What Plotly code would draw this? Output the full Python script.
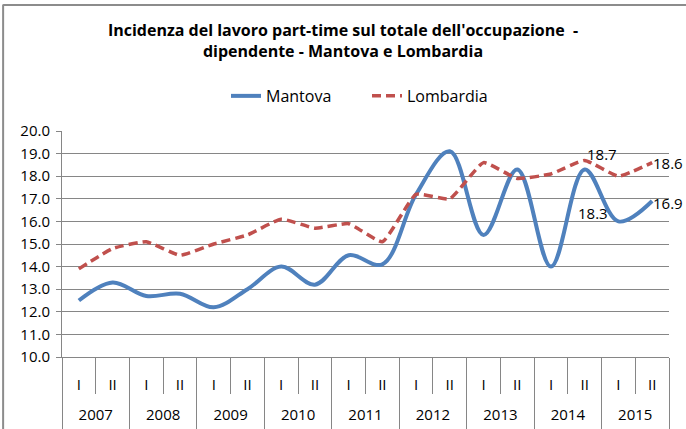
import plotly.graph_objects as go

years = ["2007", "2008", "2009", "2010", "2011", "2012", "2013", "2014", "2015"]
halves = ["I", "II"]
mantova = [12.5, 13.3, 12.7, 12.8, 12.2, 13.0, 14.0, 13.2, 14.5, 14.1,
           17.2, 19.1, 15.4, 18.3, 14.0, 18.3, 16.0, 16.9]
lombardia = [13.9, 14.8, 15.1, 14.5, 15.0, 15.4, 16.1, 15.7, 15.9, 15.1,
             17.2, 17.0, 18.6, 17.9, 18.1, 18.7, 18.0, 18.6]

n = len(mantova)
xi = list(range(n))
half_text = [h for _ in years for h in halves]
year_pos = [2 * k + 0.5 for k in range(len(years))]
half_bounds = [i - 0.5 for i in range(n + 1)]
year_bounds = [2 * k - 0.5 for k in range(len(years) + 1)]

FONT = "Open Sans, sans-serif"
BLUE = "#4F81BD"
RED = "#C0504D"
GRID = "#868686"

fig = go.Figure()
fig.add_trace(go.Scatter(x=xi, y=mantova, name="Mantova", mode="lines",
                         line=dict(color=BLUE, width=4, shape="spline", smoothing=1.0)))
fig.add_trace(go.Scatter(x=xi, y=lombardia, name="Lombardia", mode="lines",
                         line=dict(color=RED, width=3.5, dash="9px,5px", shape="spline", smoothing=0.4)))
# invisible carrier so the year axis is drawn
fig.add_trace(go.Scatter(x=xi, y=lombardia, xaxis="x2", mode="lines", opacity=0,
                         showlegend=False, hoverinfo="skip", line=dict(width=0)))

# data labels
fig.add_annotation(x=15, y=lombardia[15], text=f"{lombardia[15]:.1f}", showarrow=False,
                   xanchor="center", yanchor="bottom", xshift=17, yshift=-6)
fig.add_annotation(x=n - 1, y=lombardia[-1], text=f"{lombardia[-1]:.1f}", showarrow=False,
                   xanchor="left", yanchor="middle", xshift=-1)
fig.add_annotation(x=n - 1, y=mantova[-1], text=f"{mantova[-1]:.1f}", showarrow=False,
                   xanchor="left", yanchor="middle", xshift=-1, yshift=-2)
fig.add_annotation(x=15, y=mantova[15], text=f"{mantova[15]:.1f}", showarrow=False,
                   xanchor="center", yanchor="middle", xshift=8, yshift=-44)

# chart frame (left and top edges)
fig.add_shape(type="line", xref="paper", yref="paper", x0=-0.097, x1=-0.097, y0=-0.4, y1=1.56,
              line=dict(color="#8c8c8c", width=2))
fig.add_shape(type="line", xref="paper", yref="paper", x0=-0.097, x1=1.03, y0=1.557, y1=1.557,
              line=dict(color="#8c8c8c", width=2))

fig.update_layout(
    width=686, height=429,
    margin=dict(l=62, r=17, t=131, b=72, autoexpand=False),
    paper_bgcolor="white", plot_bgcolor="white",
    font=dict(family=FONT, size=15, color="black"),
    title=dict(text="<b>Incidenza del lavoro part-time sul totale dell'occupazione  -<br>dipendente - Mantova e Lombardia</b>",
               x=0.5, xanchor="center", y=0.915, yanchor="top",
               font=dict(family=FONT, size=16, color="black")),
    legend=dict(orientation="h", x=(226 - 62) / 607, xanchor="left", y=1.155, yanchor="middle",
                font=dict(size=16), bgcolor="rgba(0,0,0,0)",
                entrywidth=96, entrywidthmode="pixels"),
    showlegend=True,
    xaxis=dict(range=[-0.5, n - 0.5], tickmode="array", tickvals=xi, ticktext=half_text,
               ticks="", showgrid=False, zeroline=False, showline=True, linecolor=GRID, linewidth=1,
               ticklabelstandoff=14, automargin=False, tickfont=dict(size=15),
               minor=dict(tickmode="array", tickvals=half_bounds, ticks="outside", ticklen=36,
                          tickcolor=GRID, tickwidth=1, showgrid=False)),
    xaxis2=dict(overlaying="x", anchor="y", side="bottom", matches="x",
                tickmode="array", tickvals=year_pos, ticktext=years,
                ticks="", showgrid=False, zeroline=False, showline=False,
                ticklabelstandoff=47, automargin=False, tickfont=dict(size=15),
                minor=dict(tickmode="array", tickvals=year_bounds, ticks="outside", ticklen=80,
                           tickcolor=GRID, tickwidth=1, showgrid=False)),
    yaxis=dict(range=[10, 20], dtick=1, tickformat=".1f", showgrid=True, gridcolor=GRID, gridwidth=1,
               showline=True, linecolor=GRID, linewidth=1, ticks="outside", ticklen=5, tickcolor=GRID,
               zeroline=False, tickfont=dict(size=15), automargin=False, ticklabelstandoff=3),
)

fig.write_html("out.html", config={"displayModeBar": False},
               post_script="document.body.style.margin='0';document.body.style.overflow='hidden';")
